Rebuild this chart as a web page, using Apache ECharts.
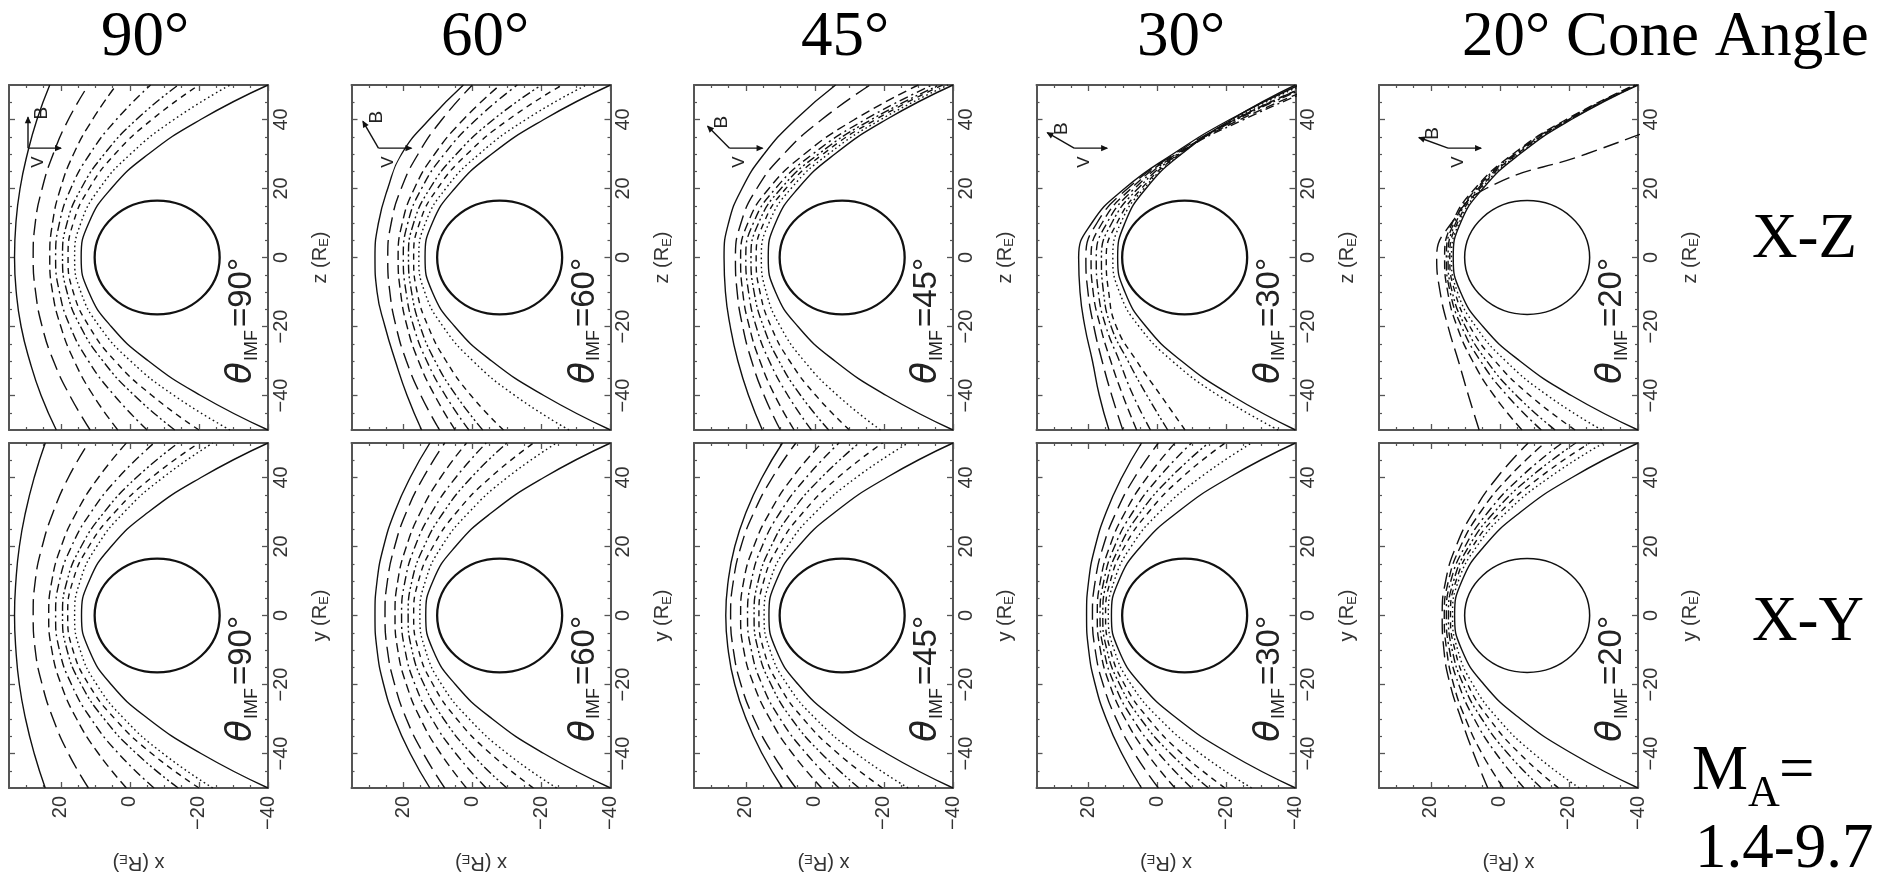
<!DOCTYPE html>
<html><head><meta charset="utf-8">
<script src="https://cdn.jsdelivr.net/npm/echarts@6/dist/echarts.min.js"></script>
<style>html,body{margin:0;padding:0;background:#fff}#c{width:1900px;height:882px}</style>
</head><body><div id="c"></div>
<script>
// ---------------- data ----------------
const coneAngles = [90, 60, 45, 30, 20];
const planeLabels = ['X-Z', 'X-Y'];
const zGrid = [-50, -40, -30, -20, -10, 0, 10, 20, 30, 40, 50];
const xTicks = [-40, -20, 0, 20];
const zTicks = [-40, -20, 0, 20, 40];
const xMinor = [-35, -30, -25, -15, -10, -5, 5, 10, 15, 25, 30];
const zMinor = [-45, -35, -30, -25, -15, -10, -5, 5, 10, 15, 25, 30, 35, 45];

// shock curves: x (R_E) read at each z (or y) of zGrid
const xz90 = [
  [21.3, 25.7, 29.0, 31.5, 32.9, 33.4, 33.0, 31.8, 29.7, 26.9, 23.2],
  [11.5, 17.4, 22.1, 25.4, 27.3, 28.0, 27.4, 25.4, 22.2, 17.8, 12.0],
  [3.5, 10.6, 16.1, 20.0, 22.4, 23.2, 22.4, 20.1, 16.3, 10.8, 3.9],
  [-5.0, 4.5, 12.0, 17.3, 20.4, 21.5, 20.4, 17.1, 11.6, 3.9, -6.0],
  [-13.0, -1.3, 7.8, 14.3, 18.2, 19.5, 18.2, 14.1, 7.4, -1.9, -14.0],
  [-20.0, -6.4, 4.3, 11.8, 16.4, 17.9, 16.4, 11.8, 4.3, -6.4, -20.0],
  [-29.0, -12.8, -0.2, 8.8, 14.2, 16.0, 14.2, 8.8, -0.2, -12.8, -29.0],
  [-40.0, -20.5, -5.4, 5.4, 11.9, 14.1, 11.9, 5.4, -5.4, -20.5, -40.0]
];
const xz60 = [
  [14.7, 18.9, 22.3, 25.3, 27.6, 28.2, 27.2, 24.5, 20.5, 12.5, 2.6],
  [9.5, 14.9, 19.1, 22.1, 23.9, 24.5, 23.5, 20.6, 15.7, 8.8, 0.0],
  [5.0, 10.9, 15.6, 18.9, 20.8, 21.5, 20.3, 16.8, 10.9, 2.6, -8.0],
  [1.0, 7.8, 13.2, 17.0, 19.2, 20.0, 18.7, 14.7, 8.1, -1.1, -13.0],
  [-3.0, 4.7, 10.8, 15.1, 17.6, 18.5, 17.0, 12.3, 4.6, -6.1, -20.0],
  [-9.0, 0.4, 7.6, 12.8, 16.0, 17.0, 15.3, 10.1, 1.5, -10.5, -26.0],
  [-28.0, -12.3, -0.2, 8.5, 13.8, 15.5, 13.6, 7.7, -2.0, -15.5, -33.0],
  [-40.0, -20.7, -5.6, 5.1, 11.6, 13.7, 11.6, 5.1, -5.6, -20.7, -40.0]
];
const xz45 = [
  [15.2, 19.2, 22.3, 24.5, 25.9, 26.3, 25.0, 21.1, 14.7, 5.6, -6.0],
  [10.0, 14.7, 18.3, 20.9, 22.5, 23.0, 21.4, 16.8, 9.0, -2.0, -16.0],
  [6.0, 11.6, 15.9, 19.0, 20.9, 21.5, 19.4, 13.3, 3.0, -11.5, -30.0],
  [1.0, 7.8, 13.2, 17.0, 19.2, 20.0, 17.8, 11.4, 0.6, -14.6, -34.0],
  [-4.0, 4.1, 10.4, 14.9, 17.6, 18.5, 16.3, 9.8, -1.1, -16.4, -36.0],
  [-10.0, -0.3, 7.3, 12.7, 15.9, 17.0, 14.8, 8.4, -2.4, -17.6, -37.0],
  [-19.0, -6.6, 3.1, 10.0, 14.1, 15.5, 13.3, 6.9, -3.9, -19.1, -38.5],
  [-40.0, -20.7, -5.8, 4.9, 11.4, 13.5, 11.4, 4.9, -5.8, -20.7, -40.0]
];
const xz30 = [
  [14.0, 16.8, 18.8, 21.0, 22.4, 22.8, 19.0, 9.5, -4.5, -21.0, -41.0],
  [10.0, 13.2, 16.0, 18.4, 20.1, 20.7, 17.5, 8.6, -5.0, -22.5, -44.0],
  [6.0, 10.0, 13.5, 16.5, 18.6, 19.2, 16.0, 7.6, -5.5, -24.0, -47.0],
  [2.0, 7.0, 11.0, 14.9, 17.1, 17.7, 14.6, 6.6, -5.9, -25.0, -48.0],
  [-3.0, 3.0, 8.5, 13.4, 15.6, 16.2, 13.2, 5.6, -6.2, -23.0, -45.0],
  [-8.0, -1.0, 6.0, 11.9, 14.1, 14.8, 11.7, 4.6, -6.5, -22.5, -44.0],
  [-35.0, -17.7, -4.3, 5.3, 11.0, 12.9, 10.6, 3.9, -6.8, -22.0, -42.0],
  [-40.0, -21.5, -7.0, 3.3, 9.4, 11.5, 9.4, 3.3, -7.0, -21.5, -40.0]
];
const xz20 = [
  [6.0, 9.1, 12.0, 15.0, 17.3, 18.3, 14.0, 4.0, -25.0, -52.0, -79.0],
  [-6.4, 1.7, 7.9, 12.4, 15.1, 16.0, 13.8, 7.2, -3.8, -19.2, -39.0],
  [-12.0, -2.1, 5.6, 11.1, 14.4, 15.5, 13.3, 6.7, -4.2, -19.6, -39.3],
  [-16.0, -4.8, 3.8, 10.0, 13.8, 15.0, 12.8, 6.3, -4.6, -19.9, -39.5],
  [-21.8, -8.7, 1.4, 8.7, 13.0, 14.5, 12.3, 5.8, -5.0, -20.2, -39.7],
  [-29.5, -13.8, -1.7, 7.0, 12.3, 14.0, 11.8, 5.4, -5.4, -20.4, -39.8],
  [-40.0, -20.7, -5.8, 4.9, 11.4, 13.5, 11.4, 4.9, -5.8, -20.7, -40.0]
];
const xy90 = [
  [24.5, 27.7, 30.2, 32.0, 33.0, 33.4, 33.0, 32.0, 30.2, 27.7, 24.5],
  [12.0, 17.8, 22.2, 25.4, 27.4, 28.0, 27.4, 25.4, 22.2, 17.8, 12.0],
  [1.0, 9.1, 15.4, 19.9, 22.6, 23.5, 22.6, 19.9, 15.4, 9.1, 1.0],
  [-7.0, 3.3, 11.2, 16.9, 20.4, 21.5, 20.4, 16.9, 11.2, 3.3, -7.0],
  [-14.0, -1.9, 7.4, 14.1, 18.2, 19.5, 18.2, 14.1, 7.4, -1.9, -14.0],
  [-20.0, -6.3, 4.3, 11.9, 16.5, 18.0, 16.5, 11.9, 4.3, -6.3, -20.0],
  [-24.0, -9.6, 1.6, 9.6, 14.4, 16.0, 14.4, 9.6, 1.6, -9.6, -24.0],
  [-40.0, -20.6, -5.4, 5.4, 11.8, 14.0, 11.8, 5.4, -5.4, -20.6, -40.0]
];
const xy60 = [
  [12.3, 18.0, 22.5, 25.7, 27.6, 28.2, 27.6, 25.7, 22.5, 18.0, 12.3],
  [8.0, 14.2, 19.1, 22.5, 24.6, 25.3, 24.6, 22.5, 19.1, 14.2, 8.0],
  [1.7, 9.2, 15.0, 19.1, 21.6, 22.4, 21.6, 19.1, 15.0, 9.2, 1.7],
  [-4.0, 4.8, 11.7, 16.6, 19.5, 20.5, 19.5, 16.6, 11.7, 4.8, -4.0],
  [-10.0, 0.3, 8.3, 14.0, 17.5, 18.6, 17.5, 14.0, 8.3, 0.3, -10.0],
  [-17.7, -5.2, 4.5, 11.4, 15.6, 17.0, 15.6, 11.4, 4.5, -5.2, -17.7],
  [-24.4, -10.1, 0.9, 8.9, 13.6, 15.2, 13.6, 8.9, 0.9, -10.1, -24.4],
  [-40.0, -20.7, -5.8, 4.9, 11.4, 13.5, 11.4, 4.9, -5.8, -20.7, -40.0]
];
const xy45 = [
  [9.4, 15.3, 19.9, 23.2, 25.1, 25.8, 25.1, 23.2, 19.9, 15.3, 9.4],
  [5.5, 12.3, 17.6, 21.4, 23.6, 24.4, 23.6, 21.4, 17.6, 12.3, 5.5],
  [-2.0, 6.5, 13.0, 17.7, 20.6, 21.5, 20.6, 17.7, 13.0, 6.5, -2.0],
  [-7.0, 2.5, 10.0, 15.3, 18.4, 19.5, 18.4, 15.3, 10.0, 2.5, -7.0],
  [-12.8, -1.9, 6.7, 12.7, 16.4, 17.6, 16.4, 12.7, 6.7, -1.9, -12.8],
  [-19.6, -6.7, 3.3, 10.5, 14.8, 16.2, 14.8, 10.5, 3.3, -6.7, -19.6],
  [-27.0, -12.0, -0.3, 8.0, 13.0, 14.7, 13.0, 8.0, -0.3, -12.0, -27.0],
  [-40.0, -20.8, -5.9, 4.8, 11.2, 13.3, 11.2, 4.8, -5.9, -20.8, -40.0]
];
const xy30 = [
  [4.6, 10.3, 14.8, 18.0, 19.9, 20.5, 19.9, 18.0, 14.8, 10.3, 4.6],
  [-0.3, 6.6, 11.9, 15.7, 18.0, 18.8, 18.0, 15.7, 11.9, 6.6, -0.3],
  [-5.1, 3.0, 9.3, 13.8, 16.5, 17.4, 16.5, 13.8, 9.3, 3.0, -5.1],
  [-9.9, -0.4, 7.1, 12.4, 15.5, 16.6, 15.5, 12.4, 7.1, -0.4, -9.9],
  [-14.8, -3.8, 4.8, 10.9, 14.6, 15.8, 14.6, 10.9, 4.8, -3.8, -14.8],
  [-19.6, -7.1, 2.5, 9.5, 13.6, 15.0, 13.6, 9.5, 2.5, -7.1, -19.6],
  [-27.3, -12.4, -0.7, 7.6, 12.5, 14.2, 12.5, 7.6, -0.7, -12.4, -27.3],
  [-40.0, -20.8, -5.9, 4.8, 11.2, 13.3, 11.2, 4.8, -5.9, -20.8, -40.0]
];
const xy20 = [
  [3.5, 7.6, 11.2, 14.4, 16.2, 16.7, 15.7, 12.7, 7.7, 0.8, -8.2],
  [-1.0, 5.2, 9.9, 13.4, 15.4, 16.1, 14.9, 11.4, 5.6, -2.5, -13.0],
  [-7.0, 1.1, 7.4, 11.9, 14.6, 15.5, 14.2, 10.1, 3.4, -5.9, -18.0],
  [-12.0, -2.3, 5.2, 10.6, 13.8, 14.9, 13.4, 9.0, 1.6, -8.7, -22.0],
  [-17.0, -5.7, 3.0, 9.3, 13.0, 14.3, 12.7, 7.9, -0.2, -11.5, -26.0],
  [-23.0, -9.8, 0.5, 7.8, 12.2, 13.7, 12.0, 6.7, -2.0, -14.3, -30.0],
  [-40.0, -20.9, -6.0, 4.6, 11.0, 13.1, 11.0, 4.6, -6.0, -20.9, -40.0]
];
const stylesMain = ['solid', 'longdash', 'dash', 'dashdot', 'dashdotdot', 'dash2', 'dotted', 'solid'];
const styles20 = ['longdash', 'dash', 'dashdot', 'dashdotdot', 'dash2', 'dotted', 'solid'];
// obstacle: [center x, center z, radius x, radius z]
const obstacle = [-7.9, 0, 18.1, 16.5];
// arrow origins (x, z) in the X-Z panels
const arrowOrigins = [[29.5, 31.7], [27.2, 31.7], [24.7, 31.7], [24.1, 31.7], [15.0, 31.7]];

const panelsXZ = [xz90, xz60, xz45, xz30, xz20];
const panelsXY = [xy90, xy60, xy45, xy30, xy20];

// ---------------- styling ----------------
const FONT_SANS = '"Liberation Sans", Arial, Helvetica, sans-serif';
const FONT_SERIF = '"Liberation Serif", "Times New Roman", serif';
const FRAME = '#555';
const TXT = '#333';
const INK = '#111';
const dashMap = {
  solid: 'solid', longdash: [16, 7], dash: [9, 5], dashdot: [9, 4, 2, 4],
  dashdotdot: [9, 3, 2, 3, 2, 3], dash2: [6, 5], dotted: [1.6, 3]
};
const GRID_LEFT0 = 9, GRID_STEP = 342.5, GRID_W = 259, GRID_H = 345;
const ROW_TOP = [85, 443];

const fmt = v => (v < 0 ? '\u2212' + Math.abs(v) : String(v));
const nameRich = {
  a: {fontSize: 20, fontFamily: FONT_SANS, color: TXT, lineHeight: 22},
  b: {fontSize: 13, fontFamily: FONT_SANS, color: TXT, lineHeight: 13, verticalAlign: 'bottom'}
};

function makeX(g, row) {
  const base = {type: 'value', gridIndex: g, min: -40, max: 35, inverse: true, splitLine: {show: false}};
  const lineOn = {show: true, onZero: false, lineStyle: {color: FRAME, width: 2}};
  const lineOff = {show: false, onZero: false};
  const maj = {show: true, inside: true, length: 6, customValues: xTicks, lineStyle: {color: FRAME, width: 1.3}};
  const mnr = {show: true, inside: true, length: 3, customValues: xMinor, lineStyle: {color: FRAME, width: 1.2}};
  const noLab = {show: false};
  return [
    Object.assign({}, base, {
      position: 'bottom', axisLine: lineOn, axisTick: maj,
      axisLabel: row === 1 ? {show: true, customValues: xTicks, rotate: 90, margin: 8, fontSize: 20,
        color: TXT, fontFamily: FONT_SANS, formatter: fmt} : noLab,
      name: row === 1 ? '{a|x (R}{b|E}{a|)}' : '', nameLocation: 'middle', nameGap: 64, nameRotate: 180,
      nameTextStyle: {rich: nameRich}
    }),
    Object.assign({}, base, {position: 'bottom', axisLine: lineOff, axisTick: mnr, axisLabel: noLab}),
    Object.assign({}, base, {position: 'top', axisLine: lineOn, axisTick: maj, axisLabel: noLab}),
    Object.assign({}, base, {position: 'top', axisLine: lineOff, axisTick: mnr, axisLabel: noLab})
  ];
}
function makeY(g, row) {
  const base = {type: 'value', gridIndex: g, min: -50, max: 50, splitLine: {show: false}};
  const lineOn = {show: true, onZero: false, lineStyle: {color: FRAME, width: 2}};
  const lineOff = {show: false, onZero: false};
  const maj = {show: true, inside: true, length: 6, customValues: zTicks, lineStyle: {color: FRAME, width: 1.3}};
  const mnr = {show: true, inside: true, length: 3, customValues: zMinor, lineStyle: {color: FRAME, width: 1.2}};
  const noLab = {show: false};
  const letter = row === 0 ? 'z' : 'y';
  return [
    Object.assign({}, base, {
      position: 'right', axisLine: lineOn, axisTick: maj,
      axisLabel: {show: true, customValues: zTicks, rotate: 90, margin: 3, fontSize: 20,
        color: TXT, fontFamily: FONT_SANS, formatter: fmt},
      name: '{a|' + letter + ' (R}{b|E}{a|)}', nameLocation: 'middle', nameGap: 41, nameRotate: 90,
      nameTextStyle: {rich: nameRich}
    }),
    Object.assign({}, base, {position: 'right', axisLine: lineOff, axisTick: mnr, axisLabel: noLab}),
    Object.assign({}, base, {position: 'left', axisLine: lineOn, axisTick: maj, axisLabel: noLab}),
    Object.assign({}, base, {position: 'left', axisLine: lineOff, axisTick: mnr, axisLabel: noLab})
  ];
}

const grids = [], xAxes = [], yAxes = [], series = [], graphics = [];
const panelData = [panelsXZ, panelsXY];

for (let row = 0; row < 2; row++) {
  for (let col = 0; col < 5; col++) {
    const g = row * 5 + col;
    const left = GRID_LEFT0 + col * GRID_STEP, top = ROW_TOP[row];
    grids.push({left: left, top: top, width: GRID_W, height: GRID_H});
    xAxes.push(...makeX(g, row));
    yAxes.push(...makeY(g, row));
    const curves = panelData[row][col];
    const sty = col === 4 ? styles20 : stylesMain;
    curves.forEach((xs, k) => {
      series.push({
        type: 'line', xAxisIndex: g * 4, yAxisIndex: g * 4,
        data: zGrid.map((z, j) => [xs[j], z]),
        smooth: 0.5, showSymbol: false, symbol: 'none', silent: true, animation: false,
        lineStyle: {color: INK, width: 1.4, type: dashMap[sty[k]]}
      });
    });
    const ew = col === 4 ? 1.5 : 2.3;
    series.push({
      type: 'custom', xAxisIndex: g * 4, yAxisIndex: g * 4, silent: true, animation: false,
      data: [obstacle],
      renderItem: function (params, api) {
        const c = api.coord([api.value(0), api.value(1)]);
        const s = api.size([api.value(2), api.value(3)]);
        return {type: 'ellipse', shape: {cx: c[0], cy: c[1], rx: s[0], ry: s[1]},
          style: {fill: 'none', stroke: INK, lineWidth: ew}};
      }
    });
    if (row === 0) {
      series.push({
        type: 'custom', xAxisIndex: g * 4, yAxisIndex: g * 4, silent: true, animation: false,
        data: [[arrowOrigins[col][0], arrowOrigins[col][1], coneAngles[col]]],
        renderItem: function (params, api) {
          const p = api.coord([api.value(0), api.value(1)]);
          const ang = api.value(2) * Math.PI / 180;
          const vL = 33, bL = 31, hl = 6, hw = 3.2;
          const vx = p[0] + vL, vy = p[1];
          const dx = -Math.cos(ang), dy = -Math.sin(ang);
          const bx = p[0] + bL * dx, by = p[1] + bL * dy;
          const px = -dy, py = dx;
          const st = {stroke: INK, lineWidth: 1.4};
          return {type: 'group', children: [
            {type: 'line', shape: {x1: p[0], y1: p[1], x2: vx, y2: vy}, style: st},
            {type: 'polygon', shape: {points: [[vx + 1, vy], [vx - hl, vy - hw], [vx - hl, vy + hw]]}, style: {fill: INK}},
            {type: 'line', shape: {x1: p[0], y1: p[1], x2: bx, y2: by}, style: st},
            {type: 'polygon', shape: {points: [[bx + dx, by + dy], [bx - hl * dx + hw * px, by - hl * dy + hw * py],
              [bx - hl * dx - hw * px, by - hl * dy - hw * py]]}, style: {fill: INK}},
            {type: 'text', x: bx + 14, y: by - 4, rotation: Math.PI / 2,
              style: {text: 'B', fontSize: 19, fontFamily: FONT_SANS, fill: '#222', align: 'center', verticalAlign: 'middle'}},
            {type: 'text', x: p[0] + 10, y: p[1] + 14, rotation: Math.PI / 2,
              style: {text: 'V', fontSize: 17, fontFamily: FONT_SANS, fill: '#222', align: 'center', verticalAlign: 'middle'}}
          ]};
        }
      });
    }
    graphics.push({
      type: 'text', x: left + 233, y: top + 236, rotation: Math.PI / 2, silent: true,
      style: {
        text: '{t|\u03b8}{s|IMF}{n|=' + coneAngles[col] + '\u00b0}',
        align: 'center', verticalAlign: 'middle', textAlign: 'center', textVerticalAlign: 'middle',
        rich: {
          t: {fontSize: 36, fontStyle: 'italic', fontFamily: '"DejaVu Sans", sans-serif', fill: '#222', color: '#222', lineHeight: 38, verticalAlign: 'middle'},
          s: {fontSize: 18, fontFamily: FONT_SANS, fill: '#222', color: '#222', lineHeight: 18, verticalAlign: 'bottom', padding: [0, 3, 0, 1]},
          n: {fontSize: 33, fontFamily: FONT_SANS, fill: '#222', color: '#222', lineHeight: 38, verticalAlign: 'middle'}
        }
      }
    });
  }
}

// titles and side labels
const titleX = [145, 485, 845, 1181];
coneAngles.slice(0, 4).forEach((a, i) => {
  graphics.push({type: 'text', x: titleX[i], y: 38, silent: true,
    style: {text: a + '\u00b0', fontSize: 63, fontFamily: FONT_SERIF, fill: '#000', align: 'center', verticalAlign: 'middle'}});
});
graphics.push({type: 'text', x: 1462, y: 38, silent: true,
  style: {text: coneAngles[4] + '\u00b0 Cone Angle', fontSize: 63, fontFamily: FONT_SERIF, fill: '#000', align: 'left', verticalAlign: 'middle'}});
graphics.push({type: 'text', x: 1752, y: 240, silent: true,
  style: {text: planeLabels[0], fontSize: 63, fontFamily: FONT_SERIF, fill: '#000', align: 'left', verticalAlign: 'middle'}});
graphics.push({type: 'text', x: 1752, y: 623, silent: true,
  style: {text: planeLabels[1], fontSize: 63, fontFamily: FONT_SERIF, fill: '#000', align: 'left', verticalAlign: 'middle'}});
graphics.push({type: 'text', x: 1692, y: 772, silent: true,
  style: {text: 'M', fontSize: 63, fontFamily: FONT_SERIF, fill: '#000', align: 'left', verticalAlign: 'middle'}});
graphics.push({type: 'text', x: 1748, y: 794, silent: true,
  style: {text: 'A', fontSize: 44, fontFamily: FONT_SERIF, fill: '#000', align: 'left', verticalAlign: 'middle'}});
graphics.push({type: 'text', x: 1779, y: 772, silent: true,
  style: {text: '=', fontSize: 63, fontFamily: FONT_SERIF, fill: '#000', align: 'left', verticalAlign: 'middle'}});
graphics.push({type: 'text', x: 1695, y: 850, silent: true,
  style: {text: '1.4-9.7', fontSize: 63, fontFamily: FONT_SERIF, fill: '#000', align: 'left', verticalAlign: 'middle'}});

const chart = echarts.init(document.getElementById('c'), null, {renderer: 'canvas'});
chart.setOption({
  animation: false,
  backgroundColor: '#fff',
  grid: grids,
  xAxis: xAxes,
  yAxis: yAxes,
  series: series,
  graphic: graphics
});
</script>
</body></html>
